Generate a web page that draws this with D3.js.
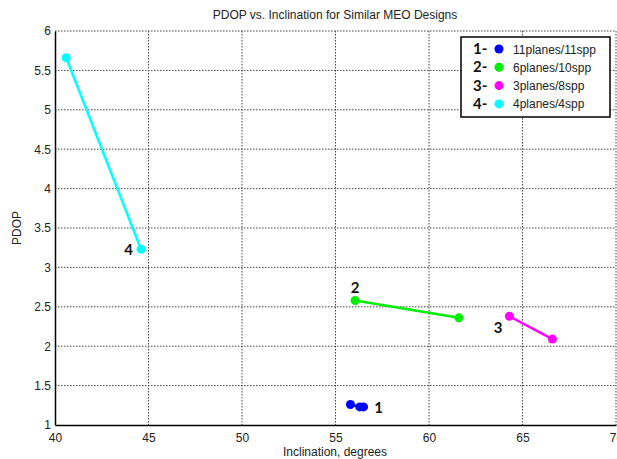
<!DOCTYPE html>
<html>
<head>
<meta charset="utf-8">
<script src="https://cdn.jsdelivr.net/npm/d3@7/dist/d3.min.js"></script>
<style>
  body { margin: 0; background: #fff; }
  svg { display: block; }
</style>
</head>
<body>
<svg id="chart" width="617" height="459"></svg>
<script>
// Design points: inclination (degrees) and PDOP for each constellation family
const seriesNames = ["11planes/11spp", "6planes/10spp", "3planes/8spp", "4planes/4spp"];
const seriesIds = ["1", "2", "3", "4"];
const seriesColors = ["#0000ff", "#00ee00", "#ff00ff", "#00ffff"];
const inclination1 = [55.8, 56.3, 56.5];
const pdop1 = [1.26, 1.23, 1.23];
const inclination2 = [56.05, 61.6];
const pdop2 = [2.58, 2.36];
const inclination3 = [64.3, 66.6];
const pdop3 = [2.38, 2.09];
const inclination4 = [40.6, 44.6];
const pdop4 = [5.66, 3.23];
const xTicks = [40, 45, 50, 55, 60, 65, 70];
const yTicks = [1, 1.5, 2, 2.5, 3, 3.5, 4, 4.5, 5, 5.5, 6];

const series = [
  { x: inclination1, y: pdop1 },
  { x: inclination2, y: pdop2 },
  { x: inclination3, y: pdop3 },
  { x: inclination4, y: pdop4 }
].map((s, i) => ({
  id: seriesIds[i], name: seriesNames[i], color: seriesColors[i],
  points: s.x.map((v, j) => ({ x: v, y: s.y[j] }))
}));

const svg = d3.select("#chart");
const plot = { left: 55, right: 616, top: 31, bottom: 425 };
const x = d3.scaleLinear().domain([40, 70]).range([plot.left, plot.right]);
const y = d3.scaleLinear().domain([1, 6]).range([plot.bottom, plot.top]);
const font = "'Liberation Sans', Arial, sans-serif";

// dotted grid
const grid = svg.append("g");
grid.selectAll("line.gx").data(xTicks.slice(1)).enter().append("line")
  .attr("x1", d => x(d)).attr("x2", d => x(d))
  .attr("y1", plot.top).attr("y2", plot.bottom)
  .attr("stroke", "#444").attr("stroke-width", 1).attr("stroke-dasharray", "1.5,1.5");
grid.selectAll("line.gy").data(yTicks.slice(1)).enter().append("line")
  .attr("x1", plot.left).attr("x2", plot.right)
  .attr("y1", d => y(d)).attr("y2", d => y(d))
  .attr("stroke", "#444").attr("stroke-width", 1).attr("stroke-dasharray", "1.5,1.5");

// axes
const xAxis = d3.axisBottom(x).tickValues(xTicks).tickSize(0).tickPadding(8).tickFormat(d3.format("d"));
const yAxis = d3.axisLeft(y).tickValues(yTicks).tickSize(0).tickPadding(4).tickFormat(d => String(d));
const gx = svg.append("g").attr("transform", `translate(0,${plot.bottom})`).call(xAxis);
const gy = svg.append("g").attr("transform", `translate(${plot.left},0)`).call(yAxis);
[gx, gy].forEach(g => {
  g.select(".domain").attr("stroke", "#000").attr("stroke-width", 1.5);
  g.selectAll("text").attr("font-family", font).attr("font-size", 12).attr("fill", "#222");
});

// series lines and markers
const line = d3.line().x(d => x(d.x)).y(d => y(d.y));
series.forEach(s => {
  svg.append("path").datum(s.points)
    .attr("d", line).attr("fill", "none")
    .attr("stroke", s.color).attr("stroke-width", 2.5);
  svg.selectAll(null).data(s.points).enter().append("circle")
    .attr("cx", d => x(d.x)).attr("cy", d => y(d.y)).attr("r", 4.5)
    .attr("fill", s.color);
});

// design number annotations
const labelFont = "Lato, 'Open Sans', sans-serif";
const annotations = [
  { id: "1", at: series[0].points[2], dx: 15, dy: 6, anchor: "middle" },
  { id: "2", at: series[1].points[0], dx: 0, dy: -7, anchor: "middle" },
  { id: "3", at: series[2].points[0], dx: -7, dy: 17, anchor: "end" },
  { id: "4", at: series[3].points[1], dx: -8, dy: 6, anchor: "end" }
];
svg.selectAll(null).data(annotations).enter().append("text")
  .attr("x", d => x(d.at.x) + d.dx).attr("y", d => y(d.at.y) + d.dy)
  .attr("text-anchor", d => d.anchor)
  .attr("font-family", labelFont).attr("font-weight", "bold").attr("font-size", 15)
  .attr("fill", "#111").text(d => d.id);

// legend
const lg = svg.append("g");
lg.append("rect").attr("x", 461).attr("y", 37).attr("width", 149).attr("height", 80)
  .attr("fill", "#fff").attr("stroke", "#000").attr("stroke-width", 1.5);
series.forEach((s, i) => {
  const cy = 49 + i * 18.3;
  lg.append("text").attr("x", 473).attr("y", cy + 5)
    .attr("font-family", labelFont).attr("font-weight", "bold").attr("font-size", 15)
    .attr("fill", "#111").text(s.id + "-");
  lg.append("circle").attr("cx", 499).attr("cy", cy).attr("r", 4.5).attr("fill", s.color);
  lg.append("text").attr("x", 513).attr("y", cy + 4.5)
    .attr("font-family", font).attr("font-size", 12).attr("fill", "#222").text(s.name);
});

// titles
svg.append("text").attr("x", 335).attr("y", 19).attr("text-anchor", "middle")
  .attr("font-family", font).attr("font-size", 12).attr("fill", "#222")
  .text("PDOP vs. Inclination for Similar MEO Designs");
svg.append("text").attr("x", 335).attr("y", 456).attr("text-anchor", "middle")
  .attr("font-family", font).attr("font-size", 12).attr("fill", "#222")
  .text("Inclination, degrees");
svg.append("text").attr("transform", `translate(21,${(plot.top + plot.bottom) / 2}) rotate(-90)`)
  .attr("text-anchor", "middle")
  .attr("font-family", font).attr("font-size", 12).attr("fill", "#222")
  .text("PDOP");
</script>
</body>
</html>
